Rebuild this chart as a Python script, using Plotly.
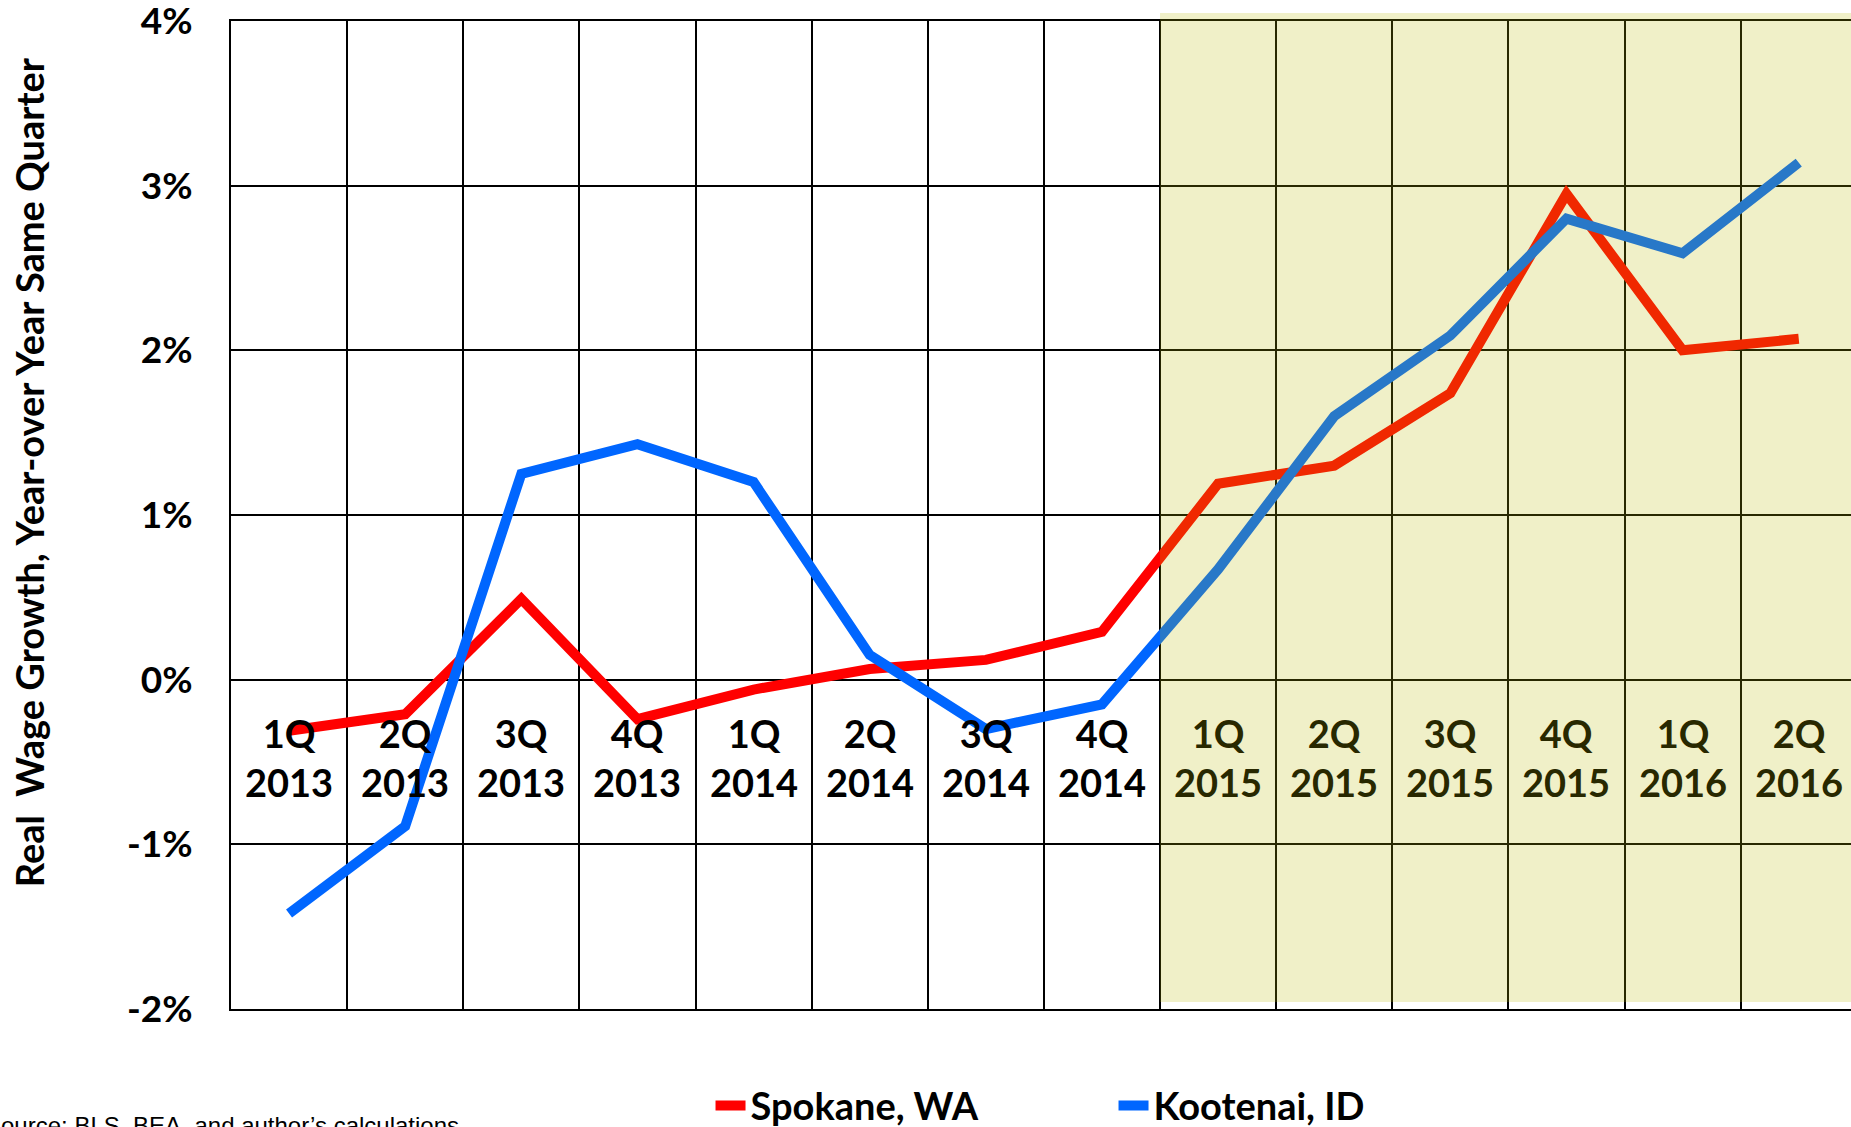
import plotly.graph_objects as go

quarters = ["1Q<br>2013", "2Q<br>2013", "3Q<br>2013", "4Q<br>2013",
            "1Q<br>2014", "2Q<br>2014", "3Q<br>2014", "4Q<br>2014",
            "1Q<br>2015", "2Q<br>2015", "3Q<br>2015", "4Q<br>2015",
            "1Q<br>2016", "2Q<br>2016"]
spokane = [-0.31, -0.21, 0.49, -0.24, -0.06, 0.065, 0.12, 0.29,
           1.19, 1.30, 1.74, 2.95, 2.00, 2.07]
kootenai = [-1.42, -0.89, 1.25, 1.43, 1.20, 0.15, -0.30, -0.15,
            0.67, 1.60, 2.09, 2.80, 2.59, 3.14]
ytick_vals = [-2, -1, 0, 1, 2, 3, 4]
ytick_text = ["-2%", "-1%", "0%", "1%", "2%", "3%", "4%"]
forecast_start = 8  # index of first shaded quarter

FONT = "Lato"

fig = go.Figure()
fig.add_trace(go.Scatter(x=quarters, y=spokane, mode="lines", name="Spokane, WA",
                         line=dict(color="#FF0000", width=10)))
fig.add_trace(go.Scatter(x=quarters, y=kootenai, mode="lines", name="Kootenai, ID",
                         line=dict(color="#0066FF", width=10)))

# shaded forecast region (semi-transparent overlay above everything)
fig.add_shape(type="rect", xref="x", yref="paper",
              x0=forecast_start - 0.5, x1=len(quarters) + 1,
              y0=0.007, y1=1.008, layer="above", line=dict(width=0),
              fillcolor="rgba(185,185,0,0.216)")

# category labels placed inside the plot
for i, q in enumerate(quarters):
    col = "rgb(40,40,0)" if i >= forecast_start else "black"
    fig.add_annotation(x=q, y=-0.475, xref="x", yref="y", text=q, showarrow=False,
                       font=dict(family=FONT, size=38, color=col, weight="bold"),
                       xanchor="center", yanchor="middle")

# y axis title
fig.add_annotation(xref="paper", yref="paper", x=-0.1246, y=0.5435,
                   text="Real  Wage Growth, Year-over Year Same Quarter",
                   textangle=-90, showarrow=False, xanchor="center", yanchor="middle",
                   font=dict(family=FONT, size=38, color="black", weight="bold"))

# source note
fig.add_annotation(xref="paper", yref="paper", x=-0.1528, y=-0.1022,
                   text="Source: BLS, BEA, and author\u2019s calculations",
                   showarrow=False, xanchor="left", yanchor="top",
                   font=dict(family="Liberation Sans, Arial", size=24, color="black"))

fig.update_layout(
    width=1851, height=1127,
    margin=dict(l=231, r=0, t=21, b=118, autoexpand=False),
    paper_bgcolor="white", plot_bgcolor="white",
    showlegend=True,
    legend=dict(orientation="h", x=0.296, y=-0.098, xanchor="left", yanchor="middle",
                font=dict(family=FONT, size=38, color="black", weight="bold"),
                entrywidth=358, bgcolor="rgba(0,0,0,0)"),
    xaxis=dict(type="category", range=[-0.5, 13.45], tickson="boundaries",
               showticklabels=False, ticks="", showgrid=True, gridcolor="black",
               gridwidth=2, showline=True, linecolor="black", linewidth=2, mirror=True,
               zeroline=False, automargin=False),
    yaxis=dict(range=[-2, 4], tickvals=ytick_vals, ticktext=ytick_text,
               showgrid=True, gridcolor="black", gridwidth=2, zeroline=False,
               showline=True, linecolor="black", linewidth=2, automargin=False,
               ticks="outside", ticklen=29, tickcolor="rgba(0,0,0,0)",
               ticklabeloverflow="allow",
               tickfont=dict(family=FONT, size=37, color="black", weight="bold")),
)

fig.write_html("out.html", config={"displayModeBar": False},
               post_script="document.body.style.margin='0';document.body.style.overflow='hidden';")
